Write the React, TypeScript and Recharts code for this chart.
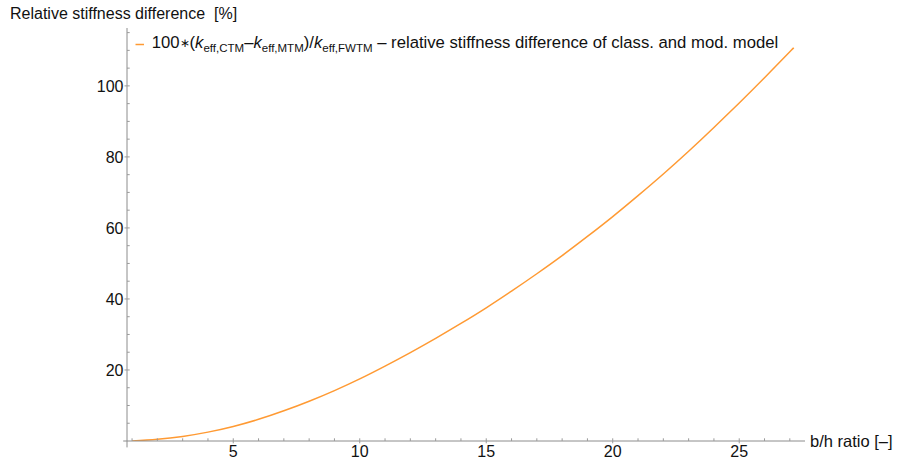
import React from 'react';
import { LineChart, Line, XAxis, YAxis, ReferenceLine, Legend } from 'recharts';

// b/h ratio values and relative stiffness difference [%]
const bhRatio = [1, 2, 3, 4, 5, 6, 7, 8, 9, 10, 11, 12, 13, 14, 15, 16, 17, 18, 19, 20, 21, 22, 23, 24, 25, 26, 27, 27.1];
const stiffnessDiff = [0, 0.5, 1.3, 2.5, 4.1, 6.1, 8.5, 11.2, 14.2, 17.5, 21.1, 24.9, 28.9, 33.1, 37.5, 42.2, 47.1, 52.2, 57.6, 63.2, 69.1, 75.2, 81.6, 88.3, 95.2, 102.3, 109.6, 110.3];

// all tick positions (minor + major) and the labelled ones
const xTicks = [1, 2, 3, 4, 5, 6, 7, 8, 9, 10, 11, 12, 13, 14, 15, 16, 17, 18, 19, 20, 21, 22, 23, 24, 25, 26, 27];
const xLabelTicks = [5, 10, 15, 20, 25];
const yTicks = [5, 10, 15, 20, 25, 30, 35, 40, 45, 50, 55, 60, 65, 70, 75, 80, 85, 90, 95, 100, 105, 110, 115];
const yLabelTicks = [20, 40, 60, 80, 100];

const xDomain = [0.8, 27.6];
const yDomain = [0, 116.3];

const yTitle = 'Relative stiffness difference  [%]';
const xTitle = 'b/h ratio [–]';
const legendTail = ' – relative stiffness difference of class. and mod. model';

const data = bhRatio.map((x, i) => ({ x, y: stiffnessDiff[i] }));

const FONT = '"Liberation Sans", Arial, sans-serif';
const ORANGE = '#FF9A33';
const AXIS = '#8c8c8c';
const TICK = '#9a9a9a';
const TEXT = '#111111';

function XTick(props: any) {
  const { x, y, payload } = props;
  const v = payload.value;
  const major = xLabelTicks.includes(v);
  return (
    <g>
      <line x1={x} x2={x} y1={y - 2.7} y2={major ? y + 2.3 : y} stroke={TICK} strokeWidth={1} />
      {major && (
        <text x={x} y={y + 16.3} textAnchor="middle" fontFamily={FONT} fontSize={16} fill={TEXT}>
          {v}
        </text>
      )}
    </g>
  );
}

function YTick(props: any) {
  const { x, y, payload } = props;
  const v = payload.value;
  const major = yLabelTicks.includes(v);
  return (
    <g>
      <line x1={major ? x - 2.5 : x} x2={x + 2.7} y1={y} y2={y} stroke={TICK} strokeWidth={1} />
      {major && (
        <text x={x - 3.5} y={y + 5.7} textAnchor="end" fontFamily={FONT} fontSize={16} fill={TEXT}>
          {v}
        </text>
      )}
    </g>
  );
}

const sub: React.CSSProperties = { fontSize: 11.5, position: 'relative', top: 4.4 };
const ital: React.CSSProperties = { fontStyle: 'italic' };

function LegendContent() {
  return (
    <div
      style={{
        fontFamily: FONT,
        fontSize: 16.7,
        lineHeight: '20px',
        height: 20,
        color: TEXT,
        whiteSpace: 'nowrap',
        position: 'relative',
      }}
    >
      <svg width={12} height={20} style={{ position: 'absolute', left: 2, top: 0 }}>
        <line x1={0.5} x2={9} y1={11.5} y2={11.5} stroke={ORANGE} strokeWidth={1.5} />
      </svg>
      <span style={{ position: 'absolute', left: 18.7, top: 0 }}>
        100<span style={{ fontSize: 12, position: 'relative', top: -1 }}>∗</span>(
        <span style={ital}>k</span>
        <span style={sub}>eff,CTM</span>–<span style={ital}>k</span>
        <span style={sub}>eff,MTM</span>)/<span style={ital}>k</span>
        <span style={sub}>eff,FWTM</span>
        {legendTail}
      </span>
    </div>
  );
}

export default function App() {
  return (
    <div style={{ position: 'absolute', left: 0, top: 0, width: 898, height: 464, background: '#fff' }}>
      <LineChart width={898} height={464} data={data} margin={{ top: 28, right: 93, bottom: 22, left: 126 }}>
        <XAxis
          type="number"
          dataKey="x"
          domain={xDomain}
          ticks={xTicks}
          interval={0}
          allowDataOverflow
          height={1}
          tickSize={0}
          tickMargin={0}
          tickLine={false}
          axisLine={{ stroke: AXIS, strokeWidth: 1 }}
          tick={<XTick />}
          label={{
            content: (p: any) => {
              const vb = p.viewBox || {};
              return (
                <text x={vb.x + vb.width + 5} y={vb.y + 5.7} fontFamily={FONT} fontSize={16.5} fill={TEXT}>
                  {xTitle}
                </text>
              );
            },
          }}
        />
        <YAxis
          type="number"
          domain={yDomain}
          ticks={yTicks}
          interval={0}
          allowDataOverflow
          width={1}
          tickSize={0}
          tickMargin={0}
          tickLine={false}
          axisLine={{ stroke: AXIS, strokeWidth: 1 }}
          tick={<YTick />}
          label={{
            content: () => (
              <text x={10} y={19} fontFamily={FONT} fontSize={16} fill={TEXT} style={{ whiteSpace: 'pre' }}>
                {yTitle}
              </text>
            ),
          }}
        />
        <ReferenceLine
          segment={[{ x: 0.65, y: 0 }, { x: 0.8, y: 0 }]}
          stroke={AXIS}
          ifOverflow="visible"
        />
        <ReferenceLine
          segment={[{ x: 0.8, y: 0 }, { x: 0.8, y: -1.8 }]}
          stroke={AXIS}
          ifOverflow="visible"
        />
        <Line
          type="natural"
          dataKey="y"
          stroke={ORANGE}
          strokeWidth={1.5}
          dot={false}
          activeDot={false}
          isAnimationActive={false}
        />
        <Legend
          layout="horizontal"
          verticalAlign="middle"
          align="center"
          content={<LegendContent />}
          wrapperStyle={{ position: 'absolute', left: 133, top: 33, width: 700, height: 20 }}
        />
      </LineChart>
    </div>
  );
}
